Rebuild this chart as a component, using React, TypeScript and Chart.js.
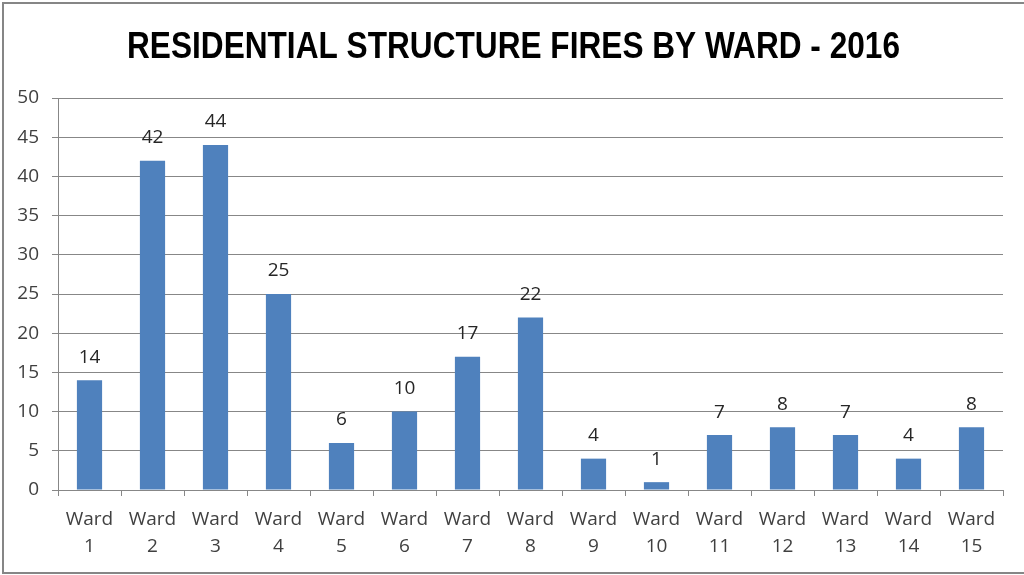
import React, { useEffect, useRef } from "react";
import { Chart, registerables } from "chart.js";

Chart.register(...registerables);

const titleText = "RESIDENTIAL STRUCTURE FIRES BY WARD - 2016";
const categories = ["1", "2", "3", "4", "5", "6", "7", "8", "9", "10", "11", "12", "13", "14", "15"];
const fires = [14, 42, 44, 25, 6, 10, 17, 22, 4, 1, 7, 8, 7, 4, 8];
const yMin = 0;
const yMax = 50;
const yStep = 5;

const BAR = "#4F81BD";
const GRID = "#878787";
const TEXT = "#404040";
const FONT = "'Open Sans', 'Noto Sans', sans-serif";

const titleDraw = {
  id: "titleDraw",
  afterDraw(chart: any) {
    const ctx = chart.ctx;
    ctx.save();
    ctx.font = `bold 36px 'Liberation Sans', sans-serif`;
    ctx.fillStyle = "#000000";
    ctx.textAlign = "left";
    ctx.textBaseline = "alphabetic";
    const w = ctx.measureText(titleText).width;
    const target = 773;
    const sx = target / w;
    ctx.translate(127, 58);
    ctx.scale(sx, 1);
    ctx.fillText(titleText, 0, 0);
    ctx.restore();
  },
};

const valueLabels = {
  id: "valueLabels",
  afterDatasetsDraw(chart: any) {
    const ctx = chart.ctx;
    const meta = chart.getDatasetMeta(0);
    ctx.save();
    ctx.font = `19px ${FONT}`;
    ctx.fillStyle = "#262626";
    ctx.textAlign = "center";
    ctx.textBaseline = "middle";
    meta.data.forEach((bar: any, i: number) => {
      ctx.fillText(String(fires[i]), bar.x, bar.y - 23);
    });
    ctx.restore();
  },
};

const frame = {
  id: "frame",
  afterDraw(chart: any) {
    const ctx = chart.ctx;
    ctx.save();
    ctx.strokeStyle = "#868686";
    ctx.lineWidth = 2;
    ctx.beginPath();
    ctx.moveTo(1024, 3);
    ctx.lineTo(3, 3);
    ctx.lineTo(3, 573);
    ctx.lineTo(1024, 573);
    ctx.stroke();
    ctx.restore();
  },
};

export default function App() {
  const ref = useRef<HTMLCanvasElement>(null);
  useEffect(() => {
    if (!ref.current) return;
    const chart = new Chart(ref.current, {
      type: "bar",
      data: {
        labels: categories.map((c) => ["Ward", c]),
        datasets: [
          {
            data: fires,
            backgroundColor: BAR,
            borderWidth: 0,
            categoryPercentage: 1,
            barPercentage: 0.4,
          },
        ],
      },
      options: {
        animation: false,
        responsive: false,
        layout: { padding: { left: 0, right: 21, top: 98, bottom: 0 } },
        plugins: {
          legend: { display: false },
          tooltip: { enabled: false },
          title: { display: false },
        },
        scales: {
          x: {
            offset: true,
            grid: {
              display: true,
              offset: true,
              drawOnChartArea: false,
              drawTicks: true,
              tickLength: 6,
              color: GRID,
            },
            border: { display: true, color: GRID },
            ticks: {
              color: TEXT,
              font: { family: FONT, size: 19, lineHeight: 1.42 },
              padding: 10,
              maxRotation: 0,
              autoSkip: false,
            },
            afterFit(scale: any) {
              scale.height = 85;
            },
          },
          y: {
            min: yMin,
            max: yMax,
            grid: { color: GRID, tickLength: 6, drawTicks: true },
            border: { display: true, color: GRID },
            ticks: {
              stepSize: yStep,
              color: TEXT,
              font: { family: FONT, size: 19 },
              padding: 13,
            },
            afterFit(scale: any) {
              scale.width = 58;
            },
          },
        },
      },
      plugins: [valueLabels, frame, titleDraw],
    });
    return () => chart.destroy();
  }, []);
  return (
    <div style={{ position: "absolute", left: 0, top: 0, width: 1024, height: 575, background: "#fff" }}>
      <canvas ref={ref} width={1024} height={575} />
    </div>
  );
}
